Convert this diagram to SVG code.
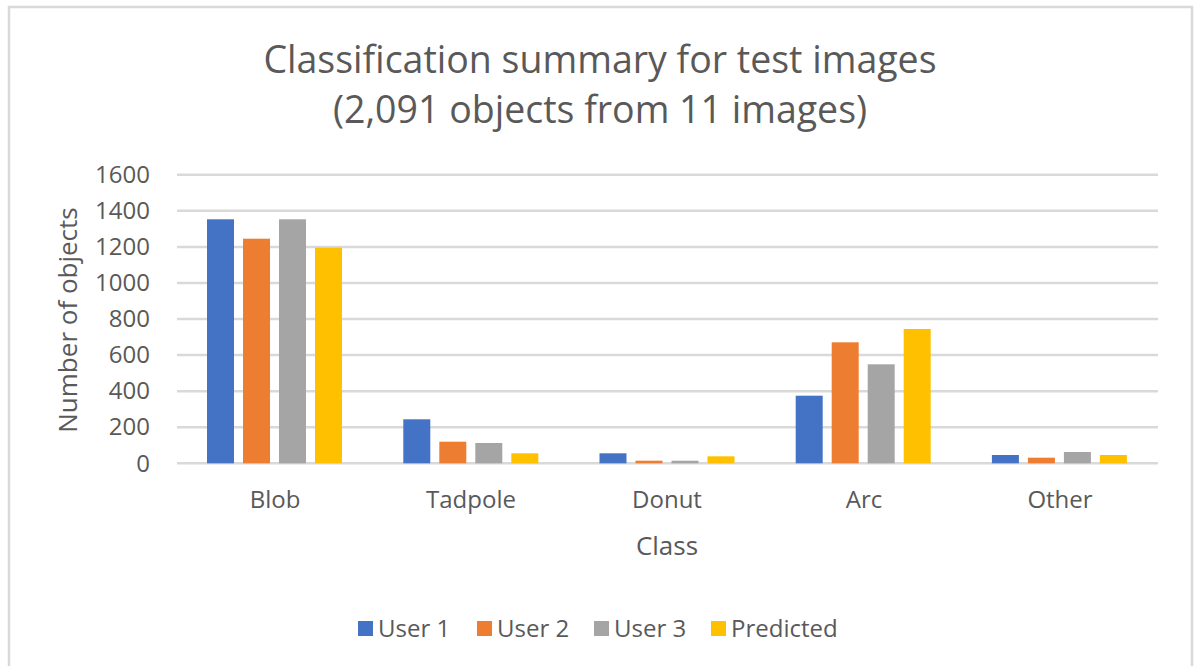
<svg xmlns="http://www.w3.org/2000/svg" width="1195" height="666" viewBox="0 0 1195 666">
  <style>
    .txt { font-family: "Open Sans", "Liberation Sans", sans-serif; fill: #595959; }
    .title { font-size: 37.5px; text-anchor: middle; }
    .tick { font-size: 24px; text-anchor: end; }
    .cat { font-size: 24px; text-anchor: middle; }
    .axis { font-size: 26px; text-anchor: middle; }
    .leg { font-size: 24px; }
    .grid line { stroke: #D9D9D9; stroke-width: 2.5; }
    .s1 { fill: #4472C4; }
    .s2 { fill: #ED7D31; }
    .s3 { fill: #A5A5A5; }
    .s4 { fill: #FFC000; }
  </style>

  <!-- chart frame -->
  <rect x="0" y="0" width="1195" height="666" fill="#FFFFFF"/>
  <rect x="9" y="7" width="1183" height="700" fill="#FFFFFF" stroke="#D9D9D9" stroke-width="2.5"/>

  <!-- title -->
  <g id="title" class="txt title">
    <text x="600" y="73">Classification summary for test images</text>
    <text x="600" y="123">(2,091 objects from 11 images)</text>
  </g>

  <!-- horizontal gridlines, 200 units apart -->
  <g id="gridlines" class="grid">
    <line x1="177" y1="174.7" x2="1158" y2="174.7"/>
    <line x1="177" y1="210.8" x2="1158" y2="210.8"/>
    <line x1="177" y1="246.9" x2="1158" y2="246.9"/>
    <line x1="177" y1="282.9" x2="1158" y2="282.9"/>
    <line x1="177" y1="319.0" x2="1158" y2="319.0"/>
    <line x1="177" y1="355.1" x2="1158" y2="355.1"/>
    <line x1="177" y1="391.2" x2="1158" y2="391.2"/>
    <line x1="177" y1="427.2" x2="1158" y2="427.2"/>
    <line x1="177" y1="463.3" x2="1158" y2="463.3"/>
  </g>

  <!-- y-axis tick labels -->
  <g id="y-ticks" class="txt tick">
    <text x="150" y="183">1600</text>
    <text x="150" y="219">1400</text>
    <text x="150" y="255">1200</text>
    <text x="150" y="291">1000</text>
    <text x="150" y="327">800</text>
    <text x="150" y="363">600</text>
    <text x="150" y="399">400</text>
    <text x="150" y="435">200</text>
    <text x="150" y="472">0</text>
  </g>

  <!-- bars -->
  <g id="blob">
    <rect class="s1" x="207" y="219.3" width="27" height="244"/>
    <rect class="s2" x="243" y="238.7" width="27" height="224.6"/>
    <rect class="s3" x="279" y="219.3" width="27" height="244"/>
    <rect class="s4" x="315" y="247.7" width="27" height="215.6"/>
  </g>
  <g id="tadpole">
    <rect class="s1" x="403.3" y="419.3" width="27" height="44"/>
    <rect class="s2" x="439.3" y="441.7" width="27" height="21.6"/>
    <rect class="s3" x="475.3" y="443" width="27" height="20.3"/>
    <rect class="s4" x="511.3" y="453.3" width="27" height="10"/>
  </g>
  <g id="donut">
    <rect class="s1" x="599.5" y="453.3" width="27" height="10"/>
    <rect class="s2" x="635.5" y="460.7" width="27" height="2.6"/>
    <rect class="s3" x="671.5" y="460.7" width="27" height="2.6"/>
    <rect class="s4" x="707.5" y="456.3" width="27" height="7"/>
  </g>
  <g id="arc">
    <rect class="s1" x="795.7" y="395.7" width="27" height="67.6"/>
    <rect class="s2" x="831.7" y="342.3" width="27" height="121"/>
    <rect class="s3" x="867.7" y="364.3" width="27" height="99"/>
    <rect class="s4" x="903.7" y="329" width="27" height="134.3"/>
  </g>
  <g id="other">
    <rect class="s1" x="991.9" y="455" width="27" height="8.3"/>
    <rect class="s2" x="1027.9" y="457.7" width="27" height="5.6"/>
    <rect class="s3" x="1063.9" y="452" width="27" height="11.3"/>
    <rect class="s4" x="1099.9" y="455" width="27" height="8.3"/>
  </g>

  <!-- category labels -->
  <g id="x-labels" class="txt cat">
    <text x="275" y="508">Blob</text>
    <text x="471" y="508">Tadpole</text>
    <text x="667" y="508">Donut</text>
    <text x="864" y="508">Arc</text>
    <text x="1060" y="508">Other</text>
  </g>

  <!-- axis titles -->
  <g id="axis-titles" class="txt axis">
    <text x="667" y="555">Class</text>
    <text transform="translate(77 320) rotate(-90)">Number of objects</text>
  </g>

  <!-- legend -->
  <g id="legend" class="txt leg">
    <rect class="s1" x="358" y="621" width="15" height="15"/>
    <text x="378" y="637">User 1</text>
    <rect class="s2" x="477" y="621" width="15" height="15"/>
    <text x="497" y="637">User 2</text>
    <rect class="s3" x="594" y="621" width="15" height="15"/>
    <text x="614" y="637">User 3</text>
    <rect class="s4" x="711" y="621" width="15" height="15"/>
    <text x="731" y="637">Predicted</text>
  </g>
</svg>
